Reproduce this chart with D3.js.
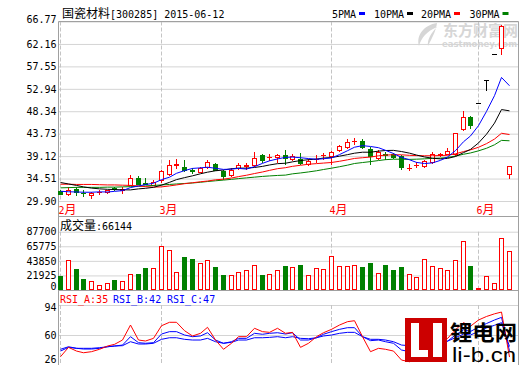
<!DOCTYPE html>
<html>
<head>
<meta charset="utf-8">
<script src="https://cdn.jsdelivr.net/npm/d3@7"></script>
<style>
body { margin: 0; background: #fff; }
svg { display: block; }
.mono { font-family: "DejaVu Sans Mono", "Liberation Mono", monospace; font-size: 10px; }
.cjk { font-family: "Noto Sans CJK SC", sans-serif; font-size: 12px; }
</style>
</head>
<body>
<svg id="chart" width="520" height="365"></svg>
<script>
// daily candles, 2015-02 .. 2015-06-12
const opens  = [31.95,31.42,32.3,31.62,31.06,31.7,31.74,32.5,32.2,33.27,34.71,33.6,33.27,34.15,35.5,37.35,36.9,36.3,35.86,36.9,37.6,36.07,35.18,36.68,37.12,37.38,39.3,38.9,38.95,39.3,38.6,38.62,37.44,38.55,39.25,39.16,40.32,40.9,42.15,42.24,40.68,38.83,39.5,39.5,39.1,36.6,37.2,37.1,37.9,39.45,39.64,39.5,44.6,47.2,50.1,54.7,60.1,61.25,35.39];
const highs  = [32.1,32.78,32.78,32.1,31.7,32.1,32.2,32.78,32.78,35.18,34.98,34.6,34.3,36.35,38.4,38.6,38.27,36.6,36.9,38.27,37.8,36.35,36.77,37.8,37.8,39.98,39.5,39.5,39.5,40.32,39.64,39.76,38.5,39.3,39.76,40.2,41.5,42.73,42.9,42.73,41.0,40.32,39.98,39.7,39.3,37.6,37.9,38.4,39.98,39.86,40.8,43.9,48.35,47.3,50.1,54.7,60.1,66.1,37.1];
const lows   = [31.3,31.21,31.21,30.9,30.6,31.4,31.6,32.09,31.5,33.12,33.33,33.3,33.12,33.8,35.3,36.6,36.1,35.7,35.8,36.6,36.2,34.5,34.98,36.4,36.56,37.03,37.9,38.27,37.9,37.4,38.27,37.6,37.24,37.9,38.62,37.6,40.18,40.7,41.6,40.7,37.6,38.5,38.62,38.8,36.4,36.2,36.9,36.97,37.8,39.16,39.5,39.4,44.5,44.8,50.1,52.7,60.1,60.0,34.62];
const closes = [31.42,32.24,31.75,31.55,31.54,31.8,32.09,32.4,32.3,34.71,33.47,33.45,33.8,36.0,37.24,37.45,36.2,36.05,36.62,37.9,36.35,35.04,36.35,37.38,37.2,38.82,38.41,38.95,39.3,38.82,39.1,37.8,38.06,38.62,39.3,39.98,41.2,42.03,42.25,40.9,39.1,39.98,39.3,38.95,36.9,36.7,37.3,38.13,39.64,39.5,40.12,43.9,47.2,45.6,50.1,54.7,60.1,65.9,37.03];

const ma5  = [31.9,31.8,31.75,31.7,31.7,31.78,31.75,31.88,32.03,32.66,32.99,33.27,33.55,34.29,34.79,35.59,36.14,36.59,36.71,36.84,36.62,36.39,36.45,36.6,36.46,36.96,37.63,38.15,38.54,38.86,38.92,38.79,38.62,38.48,38.58,38.75,39.43,40.23,40.95,41.27,41.1,40.85,40.31,39.65,38.85,38.37,37.83,37.6,37.73,38.25,38.94,40.26,42.07,43.26,45.38,48.3,51.54,55.28,53.57];
const ma10 = [33.7,33.4,33.1,32.8,32.55,32.4,32.3,32.25,32.2,32.18,32.39,32.51,32.71,33.16,33.73,34.29,34.7,35.07,35.5,35.82,36.11,36.27,36.52,36.66,36.65,36.79,37.01,37.3,37.57,37.66,37.94,38.21,38.38,38.51,38.72,38.83,39.11,39.42,39.72,39.92,39.92,40.14,40.27,40.3,40.06,39.73,39.34,38.95,38.69,38.55,38.65,39.04,39.83,40.5,41.82,43.62,45.9,48.68,48.42];
const ma20 = [33.35,33.35,33.3,33.3,33.3,33.25,33.2,33.2,33.15,33.1,33.0,32.85,32.75,32.8,33.0,33.2,33.45,33.65,33.85,34.0,34.25,34.39,34.62,34.91,35.19,35.54,35.86,36.19,36.54,36.74,37.02,37.24,37.45,37.58,37.69,37.81,38.06,38.36,38.64,38.79,38.93,39.18,39.33,39.4,39.39,39.28,39.23,39.19,39.2,39.24,39.29,39.59,40.05,40.4,40.94,41.68,42.62,43.81,43.55];
const ma30 = [32.6,32.65,32.7,32.7,32.7,32.7,32.75,32.75,32.8,32.85,32.9,33.0,33.1,33.2,33.3,33.4,33.5,33.6,33.75,33.9,34.05,34.2,34.35,34.5,34.65,34.8,34.95,35.05,35.15,35.22,35.48,35.66,35.87,36.11,36.37,36.64,36.94,37.26,37.6,37.8,37.99,38.21,38.39,38.49,38.48,38.45,38.49,38.56,38.66,38.71,38.84,39.13,39.5,39.77,40.2,40.73,41.45,42.35,42.27];

const volumes = [21060,45130,31590,16550,13540,7070,10530,15040,13540,24070,24070,33100,32640,66190,60170,27080,49640,46630,40620,44680,34600,22560,22110,27080,30090,37160,22560,24070,30090,36100,34150,37610,22560,32640,31140,50700,36100,36100,37610,34600,40620,25570,37610,30090,34600,24070,19560,46630,36100,33100,30090,45130,73710,36100,2260,21060,10530,77770,58670];

const rsiA = [35.4,46.0,41.8,39.9,41.1,43.8,47.5,49.4,54.3,71.3,54.3,53.2,56.2,70.5,74.4,74.4,64.9,58.9,61.9,68.7,54.3,43.8,50.6,58.1,58.1,67.6,63.8,63.0,67.6,61.9,63.0,46.0,50.6,58.1,62.6,66.4,71.3,75.1,76.2,58.1,41.1,44.9,43.8,41.8,31.6,29.7,33,42,52,52,56,66,74,70,77,81,84,86,35];
const rsiB = [43.8,46.7,44.9,44.1,44.1,44.9,46.7,47.5,48.6,58.1,51.3,50.6,51.3,61.1,63.8,63.8,60.0,58.1,58.9,62.6,54.3,50.6,52.4,56.2,56.2,61.9,60.8,61.9,62.6,61.1,62.6,54.3,54.3,56.9,60.8,63.8,66.4,68.3,68.3,58.1,53.6,54.3,52.4,50.6,43.0,41.1,41.5,45,50,50,53,60,66,64,69,73,77,80,42];
const rsiC = [41.8,46.0,44.9,44.9,44.9,45.6,46.7,47.5,47.9,52.4,49.8,49.8,50.6,55.1,56.9,56.9,55.1,54.3,54.3,56.2,52.4,50.6,51.7,54.3,54.3,56.9,56.9,57.3,58.1,56.9,58.1,56.2,55.8,56.9,58.9,60.0,61.9,63.0,63.0,58.1,55.1,55.1,54.3,52.4,48.6,47.9,47.5,49,51,51,53,57,61,60,64,68,71,74,47];

const priceTicks = [29.90,34.51,39.12,43.73,48.34,52.94,57.55,62.16,66.77];
const volTicks = [0,21925,43850,65775,87700];
const rsiTicks = [26,60,94];
const monthIdx = [0,13,35,54];
const monthLabels = ['2', '3', '4', '6'];

const RED = '#ff0000', GREEN = '#008000', BLUE = '#0000ff', BLACK = '#000000';
const left = 58.5, right = 518.5;
const n = closes.length;

const svg = d3.select('#chart');

const x = d3.scaleBand().domain(d3.range(n))
    .range([56.9, 56.9 + 7.74 * n]).paddingInner(0.354).paddingOuter(0.177);
const bodyLeft = i => Math.round(x(i) + x.bandwidth() / 2 - 2.5);
const cx = i => bodyLeft(i) + 2.5;

const yP = d3.scaleLinear().domain([29.90, 66.77]).range([201, 21.5]);
const yV = d3.scaleLinear().domain([0, 87700]).range([290, 231.7]);
const yR = d3.scaleLinear().domain([26, 94]).range([365, 305]);

// watermark (behind everything)
const wm = svg.append('g').attr('fill', '#d6d6d6');
wm.append('path')
    .attr('d', 'M437,23 C424,25 416,35 419,46 C421,38 427,31 437,27 C431,33 427,40 428,46 C432,38 436,31 437,23 Z');
wm.append('text').attr('x', 443).attr('y', 36)
    .style('font-family', '"Noto Sans CJK SC", sans-serif').style('font-size', '15px').style('font-weight', 'bold')
    .text('东方财富网');
wm.append('text').attr('x', 442).attr('y', 46.5)
    .attr('textLength', 75).attr('lengthAdjust', 'spacingAndGlyphs')
    .style('font-family', '"DejaVu Sans", sans-serif').style('font-size', '9px').style('font-weight', 'bold')
    .text('eastmoney.com');

// horizontal grids + tick labels
function yAxis(scale, ticks, fmt) {
    const g = svg.append('g').attr('transform', `translate(${left},0)`)
        .call(d3.axisLeft(scale).tickValues(ticks).tickFormat(fmt).tickSize(-(right - left)).tickPadding(2));
    g.attr('font-family', null).attr('font-size', null);
    g.select('.domain').remove();
    g.selectAll('.tick line').attr('stroke', '#d4d4d4');
    g.selectAll('.tick text').attr('class', 'mono').attr('fill', BLACK);
    return g;
}
const gp = yAxis(yP, priceTicks, d3.format('.2f'));
gp.selectAll('.tick text').filter(d => d === 66.77).attr('dy', '0.1em');
const gv = yAxis(yV, volTicks, d => d);
gv.selectAll('.tick text').filter(d => d === 0).attr('dy', '-0.05em');
const gr = yAxis(yR, rsiTicks, d => d);
gr.selectAll('.tick text').filter(d => d === 94).attr('dy', '0.5em');
gr.selectAll('.tick text').filter(d => d === 26).attr('dy', '-0.3em');

// month dashed lines
const panels = [[21.5, 201], [231.7, 290], [305, 365]];
panels.forEach(([t, b]) => {
    svg.append('g').selectAll('line').data(monthIdx).enter().append('line')
        .attr('x1', d => cx(d)).attr('x2', d => cx(d))
        .attr('y1', t).attr('y2', b)
        .attr('stroke', '#c4c4c4').attr('stroke-dasharray', '4,2');
});

// frame
const frame = svg.append('g').attr('stroke', '#a0a0a0').attr('fill', 'none');
frame.append('line').attr('x1', left).attr('x2', left).attr('y1', 21.5).attr('y2', 365);
frame.append('line').attr('x1', right).attr('x2', right).attr('y1', 21.5).attr('y2', 365);
[21.5, 216.5, 290.5].forEach(y => frame.append('line').attr('x1', left).attr('x2', right).attr('y1', y).attr('y2', y));

// month labels
const ml = svg.append('g').selectAll('text').data(monthIdx).enter().append('text')
    .attr('x', d => cx(d) - 2).attr('y', 214).attr('fill', RED);
ml.append('tspan').attr('class', 'mono').text((d, i) => monthLabels[i]);
ml.append('tspan').attr('class', 'cjk').text('月');

// candles
const candleColor = i => closes[i] > opens[i] ? RED : (closes[i] < opens[i] ? GREEN : BLACK);
const cg = svg.append('g').attr('shape-rendering', 'crispEdges');
const candles = cg.selectAll('.candle').data(d3.range(n)).enter().append('g').attr('class', 'candle');
candles.each(function (i) {
    const g = d3.select(this);
    const col = candleColor(i);
    const top = Math.round(yP(Math.max(opens[i], closes[i])));
    const bot = Math.round(yP(Math.min(opens[i], closes[i])));
    const hi = Math.round(yP(highs[i])), lo = Math.round(yP(lows[i]));
    const L = bodyLeft(i);
    if (hi < top) g.append('line').attr('x1', L + 2.5).attr('x2', L + 2.5).attr('y1', hi).attr('y2', top).attr('stroke', col);
    if (lo > bot) g.append('line').attr('x1', L + 2.5).attr('x2', L + 2.5).attr('y1', bot + 1).attr('y2', lo + 1).attr('stroke', col);
    if (bot - top < 1) {
        g.append('line').attr('x1', L).attr('x2', L + 5).attr('y1', top + 0.5).attr('y2', top + 0.5).attr('stroke', col);
    } else {
        g.append('rect').attr('x', L + 0.5).attr('y', top + 0.5).attr('width', 4).attr('height', bot - top)
            .attr('fill', col === GREEN ? GREEN : '#fff').attr('stroke', col);
    }
});

// moving averages
const clipMain = svg.append('clipPath').attr('id', 'clipMain');
clipMain.append('rect').attr('x', left).attr('y', 21.5).attr('width', right - left).attr('height', 180);
const priceLine = d3.line().x((d, i) => cx(i)).y(d => yP(d));
const maG = svg.append('g').attr('clip-path', 'url(#clipMain)').attr('fill', 'none').attr('stroke-width', 1);
[[ma30, GREEN], [ma20, RED], [ma10, BLACK], [ma5, BLUE]].forEach(([s, c]) => {
    maG.append('path').datum(s).attr('d', priceLine).attr('stroke', c);
});

// volume bars
const vg = svg.append('g').attr('shape-rendering', 'crispEdges');
vg.selectAll('rect').data(d3.range(n)).enter().append('rect')
    .attr('x', i => bodyLeft(i) + 0.5)
    .attr('y', i => Math.round(yV(volumes[i])) + 0.5)
    .attr('width', 4)
    .attr('height', i => Math.max(289 - Math.round(yV(volumes[i])), 0))
    .attr('fill', i => closes[i] < opens[i] ? GREEN : '#fff')
    .attr('stroke', i => closes[i] < opens[i] ? GREEN : RED);

// RSI lines
const clipRsi = svg.append('clipPath').attr('id', 'clipRsi');
clipRsi.append('rect').attr('x', left).attr('y', 305).attr('width', right - left).attr('height', 60);
const rsiLine = d3.line().x((d, i) => cx(i)).y(d => yR(d));
const rg = svg.append('g').attr('clip-path', 'url(#clipRsi)').attr('fill', 'none');
[[rsiC, BLUE], [rsiB, BLUE], [rsiA, RED]].forEach(([s, c]) => {
    rg.append('path').datum(s).attr('d', rsiLine).attr('stroke', c);
});

// headers
const title = svg.append('text').attr('x', 62).attr('y', 18).attr('fill', BLACK);
title.append('tspan').attr('class', 'cjk').text('国瓷材料');
title.append('tspan').attr('class', 'mono').text('[300285] 2015-06-12');

const legend = [['5PMA', BLUE, 332], ['10PMA', BLACK, 374], ['20PMA', RED, 421], ['30PMA', GREEN, 469.5]];
legend.forEach(([t, c, lx]) => {
    svg.append('text').attr('class', 'mono').attr('x', lx).attr('y', 18).attr('fill', BLACK).text(t);
    svg.append('rect').attr('x', lx + t.length * 6 + 3).attr('y', 12).attr('width', 6).attr('height', 3).attr('fill', c);
});

const vt = svg.append('text').attr('x', 60).attr('y', 230).attr('fill', BLACK);
vt.append('tspan').attr('class', 'cjk').text('成交量');
vt.append('tspan').attr('class', 'mono').text(':66144');

[['RSI_A:35', RED, 60], ['RSI_B:42', BLUE, 113], ['RSI_C:47', BLUE, 167]].forEach(([t, c, lx]) => {
    svg.append('text').attr('class', 'mono').attr('x', lx).attr('y', 303).attr('fill', c).text(t);
});

// li-b.cn logo
const logo = svg.append('g');
logo.append('rect').attr('x', 405).attr('y', 318).attr('width', 42).attr('height', 44).attr('fill', '#cc0000');
logo.append('rect').attr('x', 411).attr('y', 323).attr('width', 8).attr('height', 34).attr('fill', '#fff');
logo.append('rect').attr('x', 411).attr('y', 350).attr('width', 17).attr('height', 7).attr('fill', '#fff');
logo.append('rect').attr('x', 433).attr('y', 323).attr('width', 9).attr('height', 34).attr('fill', '#fff');
logo.append('text').attr('x', 450).attr('y', 340).attr('textLength', 67).attr('lengthAdjust', 'spacingAndGlyphs')
    .style('font-family', '"Noto Sans CJK SC", sans-serif').style('font-size', '21px').style('font-weight', 'bold')
    .text('锂电网');
logo.append('text').attr('x', 452).attr('y', 362).attr('textLength', 64).attr('lengthAdjust', 'spacingAndGlyphs')
    .style('font-family', '"Liberation Sans", sans-serif').style('font-size', '20px')
    .text('li-b.cn');
</script>
</body>
</html>
